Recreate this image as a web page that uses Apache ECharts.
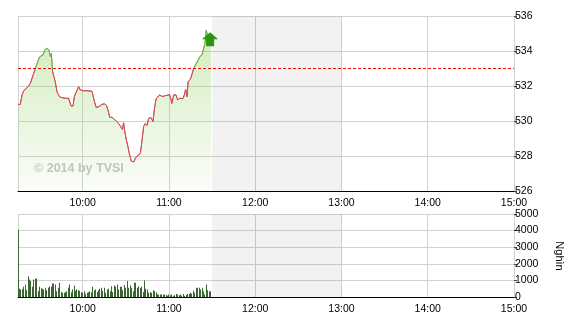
<!DOCTYPE html>
<html><head><meta charset="utf-8">
<script src="https://cdn.jsdelivr.net/npm/echarts@6/dist/echarts.min.js"></script>
<style>html,body{margin:0;padding:0;background:#fff}#c{width:570px;height:320px}</style>
</head><body><div id="c"></div>
<script>
// Session: 09:15 to 15:00; times are minutes after 09:15
const sessionOpen = [9, 15];
const sessionLength = 345;
const breakStartMin = 135;   // 11:30
const breakEndMin = 225;     // 13:00
const referencePrice = 533;

const priceTimeMin = [
  0,1.6,2.8,4.0,7.4,8.6,10.9,12.1,13.7,15.1,
  17.4,18.6,20.2,21.6,22.5,23.2,24.1,25.9,27.1,28.9,
  30.6,31.8,32.9,35.2,35.9,36.9,38.3,39.2,40.6,42.2,
  43.4,45.2,48.0,51.5,52.6,54.3,56.1,57.3,58.4,60.1,
  61.5,62.6,63.8,65.4,66.5,68.9,70.7,72.6,73.5,74.2,
  75.4,76.5,77.5,78.8,80.5,81.6,82.8,83.9,85.1,86.3,
  87.4,88.6,89.7,90.9,92.5,93.9,94.8,96.0,97.2,98.5,
  100.2,102.5,105.5,106.4,107.1,108.3,109.9,111.1,112.5,114.8,
  115.7,116.6,117.6,118.3,119.9,121.0,122.2,123.4,125.0,126.4,
  128.0,129.2,130.0,131.0,131.7,134.3
];
const priceValues = [
  530.95,530.95,531.49,531.73,532.0,532.15,532.72,533.0,533.39,533.67,
  533.77,534.06,534.15,534.06,533.67,533.86,532.82,532.25,531.67,531.39,
  531.33,531.39,531.3,531.3,531.35,530.86,530.86,531.39,531.67,531.96,
  531.77,531.73,531.73,531.7,531.3,530.78,530.82,530.72,530.95,530.98,
  530.9,530.63,530.21,530.21,530.1,529.96,529.77,529.52,529.9,529.43,
  528.91,528.53,528.11,527.71,527.66,527.87,528.0,527.95,528.15,528.91,
  529.68,529.87,529.75,530.15,530.2,529.96,530.63,531.26,531.35,531.49,
  531.4,531.45,531.5,531.48,531.01,531.49,531.49,531.2,531.3,531.28,
  531.49,531.81,531.39,532.25,532.38,532.4,533.0,533.2,533.43,533.67,
  533.77,533.77,534.44,535.2,534.9,534.9
];
// volume per minute (thousand shares), starting 09:15
const volumeValues = [
  4050,490,450,470,610,755,410,1245,1060,960,
  610,1060,1120,1120,350,610,520,490,450,550,
  410,550,650,610,816,816,755,350,550,860,
  300,250,250,290,350,550,755,290,450,700,
  380,450,410,370,290,250,350,200,250,290,
  350,290,610,410,450,300,410,490,550,370,
  550,250,450,490,350,650,300,700,610,755,
  450,610,610,400,720,550,960,550,700,550,
  350,860,860,550,650,550,610,300,1000,490,
  450,250,290,250,400,350,290,150,150,150,
  150,150,150,120,80,150,100,150,80,100,
  180,150,100,150,80,180,60,120,200,180,
  250,200,380,250,560,560,560,450,560,350,
  150,755,410,350,350
];
const priceAxis = {min: 526, max: 536, step: 2};
const volumeAxis = {min: 0, max: 5000, step: 1000};
const volumeUnit = 'Nghìn';
const watermark = '© 2014 by TVSI';

const base = new Date(2014, 0, 2, sessionOpen[0], sessionOpen[1], 0).getTime();
const t = m => base + m * 60000;
const pricePts = priceTimeMin.map((m, i) => [t(m), priceValues[i]]);
const volPts = volumeValues.map((v, i) => [t(i), v]);
const last = pricePts[pricePts.length - 1];

const pad = n => (n < 10 ? '0' : '') + n;
const fmt = v => { const d = new Date(v); return d.getMinutes() === 0 ? pad(d.getHours()) + ':00' : ''; };
const FONT = "'Liberation Sans Narrow','Arial Narrow','Liberation Sans',Arial,sans-serif";
const grey = '#d2d2d2';
const upColor = '#6cb04c', downColor = '#d0505a';
const volColor = '#3a6632';

function breakArea() {
  return {
    silent: true,
    itemStyle: {color: 'rgba(0,0,0,0.05)'},
    data: [[{xAxis: t(breakStartMin)}, {xAxis: t(breakEndMin)}]]
  };
}

function xAx(gi, margin) {
  return {
    type: 'time', gridIndex: gi, min: t(0), max: t(sessionLength),
    minInterval: 3600000, maxInterval: 3600000,
    axisLine: {show: true, lineStyle: {color: '#000', width: 1}},
    axisTick: {show: false},
    axisLabel: {formatter: fmt, color: '#000', fontSize: 10.5, fontFamily: FONT, margin: margin,
      hideOverlap: false, showMaxLabel: true},
    splitLine: {show: true, lineStyle: {color: grey, width: 1}}
  };
}
function yAx(gi, a) {
  return {
    type: 'value', gridIndex: gi, position: 'right', min: a.min, max: a.max, interval: a.step,
    axisLine: {show: true, lineStyle: {color: grey}},
    axisTick: {show: true, length: 3, lineStyle: {color: '#444'}},
    axisLabel: {color: '#000', fontSize: 10.5, fontFamily: FONT, margin: 1, formatter: v => String(v)},
    splitLine: {show: true, lineStyle: {color: grey, width: 1}}
  };
}

const chart = echarts.init(document.getElementById('c'), null, {renderer: 'canvas'});
chart.setOption({
  animation: false,
  backgroundColor: '#fff',
  grid: [
    {left: 18, right: 56, top: 16, height: 175, containLabel: false, outerBoundsMode: 'none'},
    {left: 18, right: 56, top: 214, height: 83, containLabel: false, outerBoundsMode: 'none'}
  ],
  xAxis: [xAx(0, 7), xAx(1, 7)],
  yAxis: [yAx(0, priceAxis), yAx(1, volumeAxis)],
  graphic: [
    {
      type: 'text', left: 34, top: 162, silent: true, z: 1,
      style: {text: watermark, fill: '#c4c4c4', font: "bold 12.5px 'Liberation Sans',Arial,sans-serif"}
    },
    {
      type: 'text', x: 559, y: 256, rotation: -Math.PI / 2, silent: true,
      style: {text: volumeUnit, fill: '#000', align: 'center', verticalAlign: 'middle',
        font: "11px 'Liberation Sans',Arial,sans-serif"}
    }
  ],
  series: [
    {
      id: 'price', type: 'line', xAxisIndex: 0, yAxisIndex: 0, data: pricePts,
      showSymbol: false, symbol: 'none', lineStyle: {width: 1, color: downColor},
      areaStyle: {
        origin: 'start',
        color: new echarts.graphic.LinearGradient(0, 0, 0, 1, [
          {offset: 0, color: 'rgba(150,210,100,0.6)'},
          {offset: 1, color: 'rgba(150,210,100,0.06)'}
        ])
      },
      markArea: breakArea(),
      markLine: {
        silent: true, symbol: 'none', label: {show: false},
        lineStyle: {color: '#ff0000', type: [3, 2], width: 1},
        data: [{yAxis: referencePrice}]
      },
      markPoint: {
        silent: true,
        symbol: 'path://M8,0 L16,7 L12,7 L12,14 L4,14 L4,7 L0,7 Z',
        symbolSize: [16, 14], symbolOffset: [-1, 4],
        label: {show: false},
        itemStyle: {color: '#2e9412'},
        data: [{coord: last}]
      }
    },
    {
      type: 'custom', xAxisIndex: 1, yAxisIndex: 1, data: volPts,
      encode: {x: 0, y: 1},
      renderItem: function (params, api) {
        const top = api.coord([api.value(0), api.value(1)]);
        const bot = api.coord([api.value(0), 0]);
        const x = Math.round(top[0] - 0.5);
        return {type: 'rect', shape: {x: x, y: top[1], width: 1, height: bot[1] - top[1]},
          style: {fill: volColor}};
      },
      markArea: breakArea()
    }
  ]
});
// colour the line green above the reference price and red below it
const yTop = chart.convertToPixel({yAxisIndex: 0}, priceAxis.max);
const yBot = chart.convertToPixel({yAxisIndex: 0}, priceAxis.min);
const yRef = chart.convertToPixel({yAxisIndex: 0}, referencePrice);
const p = (yRef - yTop) / (yBot - yTop);
chart.setOption({series: [{id: 'price', lineStyle: {color: new echarts.graphic.LinearGradient(0, yTop, 0, yBot, [
  {offset: 0, color: upColor}, {offset: p, color: upColor},
  {offset: p, color: downColor}, {offset: 1, color: downColor}
], true)}}]});
</script></body></html>
